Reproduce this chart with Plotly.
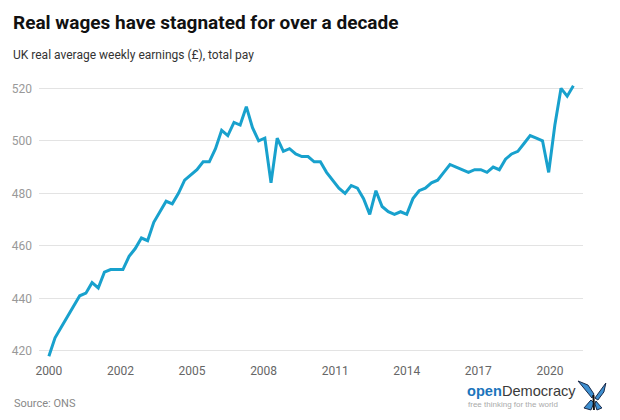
import plotly.graph_objects as go

# ---- data (quarterly, from 2000 Q1) ----
start_year = 2000
earnings = [418, 425, 429, 433, 437, 441, 442, 446, 444, 450,
            451, 451, 451, 456, 459, 463, 462, 469, 473, 477,
            476, 480, 485, 487, 489, 492, 492, 497, 504, 502,
            507, 506, 513, 505, 500, 501, 484, 501, 496, 497,
            495, 494, 494, 492, 492, 488, 485, 482, 480, 483,
            482, 478, 472, 481, 475, 473, 472, 473, 472, 478,
            481, 482, 484, 485, 488, 491, 490, 489, 488, 489,
            489, 488, 490, 489, 493, 495, 496, 499, 502, 501,
            500, 488, 506, 520, 517, 521]
periods = [start_year + i / 4 for i in range(len(earnings))]
x_tick_labels = ["2000", "2002", "2005", "2008", "2011", "2014", "2017", "2020"]
x_tick_step = 2.9
y_ticks = [420, 440, 460, 480, 500, 520]

W, H = 620, 420
L, R, T, B = 36, 583, 80, 362


def px(x):
    return (x - L) / (R - L)


def py(y):
    return (B - y) / (B - T)


fig = go.Figure()
fig.add_trace(go.Scatter(
    x=periods, y=earnings, mode="lines",
    line=dict(color="#18a1cd", width=3),
    hoverinfo="skip",
))

tickvals = [start_year + k * x_tick_step for k in range(len(x_tick_labels))]

fig.update_layout(
    width=W, height=H,
    margin=dict(l=L, r=W - R, t=T, b=H - B, pad=0),
    paper_bgcolor="white", plot_bgcolor="white",
    showlegend=False,
    font=dict(family="Roboto", size=12, color="#666"),
    xaxis=dict(
        range=[1999.6, 2021.64], tickvals=tickvals, ticktext=x_tick_labels,
        showgrid=False, zeroline=False, showline=False, ticks="",
        tickfont=dict(family="Roboto", size=12, color="#666"),
        fixedrange=True,
    ),
    yaxis=dict(
        range=[415.8, 523.16], tickvals=y_ticks,
        showgrid=True, gridcolor="#e3e3e3", gridwidth=1,
        zeroline=False, showline=False, ticks="",
        ticklabelstandoff=6,
        tickfont=dict(family="Roboto", size=12, color="#999"),
        fixedrange=True,
    ),
)

annotations = [
    dict(text="<b>Real wages have stagnated for over a decade</b>",
         x=px(8), y=py(23), xanchor="left", yanchor="middle",
         font=dict(family="Roboto", size=19, color="#111")),
    dict(text="UK real average weekly earnings (£), total pay",
         x=px(8), y=py(55), xanchor="left", yanchor="middle",
         font=dict(family="Roboto", size=12, color="#333")),
    dict(text="Source: ONS",
         x=px(9), y=py(403), xanchor="left", yanchor="middle",
         font=dict(family="Roboto", size=11, color="#888")),
    dict(text='<span style="color:#1b75bc"><b>open</b></span><span style="color:#3a3a3a">Democracy</span>',
         x=px(464), y=py(391), xanchor="left", yanchor="middle",
         font=dict(family="Liberation Sans", size=14.6)),
    dict(text="free thinking for the world",
         x=px(465), y=py(404), xanchor="left", yanchor="middle",
         font=dict(family="Liberation Sans", size=8, color="#aaa")),
]
for a in annotations:
    a.update(xref="paper", yref="paper", showarrow=False)
fig.update_layout(annotations=annotations)


def path(points):
    s = "M " + " L ".join(f"{px(a):.4f},{py(b):.4f}" for a, b in points)
    return s + " Z"


wings = [
    [(592, 398), (578, 381), (588, 385), (594, 394)],
    [(595, 398), (606, 383), (604, 392), (598, 400)],
    [(591, 400), (584, 408), (591, 410), (594, 403)],
    [(596, 401), (602, 408), (597, 410), (595, 404)],
]
shapes = []
for w in wings:
    shapes.append(dict(type="path", xref="paper", yref="paper", path=path(w),
                       fillcolor="#3d8fd0", line=dict(color="#1a2a4a", width=1)))
shapes.append(dict(type="line", xref="paper", yref="paper",
                   x0=px(593.5), y0=py(395), x1=px(594), y1=py(410),
                   line=dict(color="#111", width=2)))
fig.update_layout(shapes=shapes)

fig.write_html("out.html", config={"displayModeBar": False},
               post_script="document.body.style.margin='0';document.body.style.overflow='hidden';")
